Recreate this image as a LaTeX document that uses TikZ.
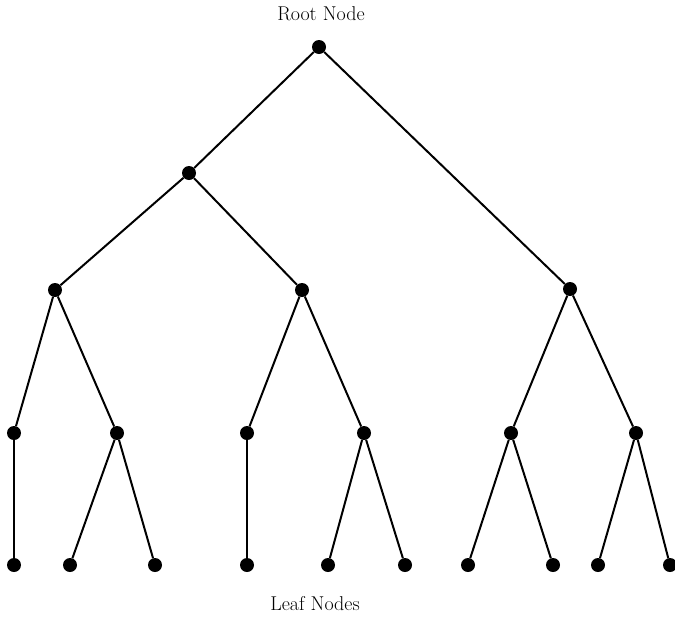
\documentclass[tikz,border=0pt]{standalone}
\begin{document}
\begin{tikzpicture}[x=1pt,y=-1pt,
  dot/.style={circle,fill=black,inner sep=0pt,minimum size=14pt},
  edge/.style={line width=2pt,black},
  lbl/.style={font=\fontsize{20}{22}\selectfont}]
\useasboundingbox (0,0) rectangle (675,619);
\node[lbl] (rootlbl) at (321,14) {Root Node};
\node[lbl] (leaflbl) at (315,604) {Leaf Nodes};
\node[dot] (r) at (319,47) {};
\node[dot] (a) at (189,173) {};
\node[dot] (b) at (570,289) {};
\node[dot] (a1) at (55,290) {};
\node[dot] (a2) at (302,290) {};
\node[dot] (c1) at (14,433) {};
\node[dot] (c2) at (117,433) {};
\node[dot] (c3) at (247,433) {};
\node[dot] (c4) at (364,433) {};
\node[dot] (c5) at (511,433) {};
\node[dot] (c6) at (636,433) {};
\node[dot] (l1) at (14,565) {};
\node[dot] (l2) at (70,565) {};
\node[dot] (l3) at (155,565) {};
\node[dot] (l4) at (247,565) {};
\node[dot] (l5) at (328,565) {};
\node[dot] (l6) at (405,565) {};
\node[dot] (l7) at (468,565) {};
\node[dot] (l8) at (553,565) {};
\node[dot] (l9) at (598,565) {};
\node[dot] (l10) at (670,565) {};
\draw[edge] (r) -- (a);
\draw[edge] (r) -- (b);
\draw[edge] (a) -- (a1);
\draw[edge] (a) -- (a2);
\draw[edge] (a1) -- (c1);
\draw[edge] (a1) -- (c2);
\draw[edge] (a2) -- (c3);
\draw[edge] (a2) -- (c4);
\draw[edge] (b) -- (c5);
\draw[edge] (b) -- (c6);
\draw[edge] (c1) -- (l1);
\draw[edge] (c2) -- (l2);
\draw[edge] (c2) -- (l3);
\draw[edge] (c3) -- (l4);
\draw[edge] (c4) -- (l5);
\draw[edge] (c4) -- (l6);
\draw[edge] (c5) -- (l7);
\draw[edge] (c5) -- (l8);
\draw[edge] (c6) -- (l9);
\draw[edge] (c6) -- (l10);
\end{tikzpicture}
\end{document}
